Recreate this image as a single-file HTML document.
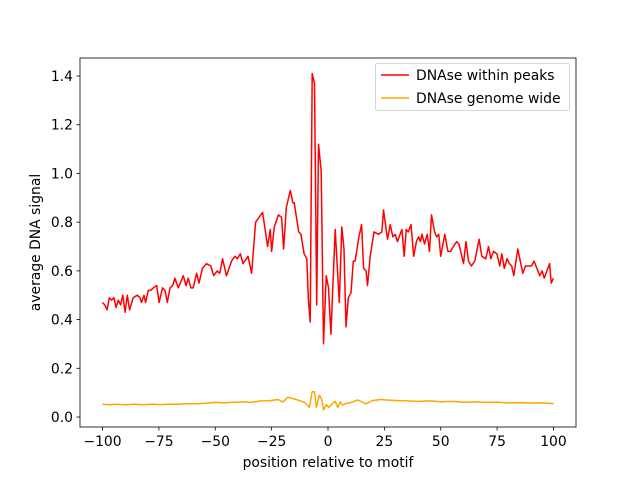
<!DOCTYPE html>
<html><head><meta charset="utf-8"><style>
body{margin:0;background:#fff}
svg{display:block;font-family:"DejaVu Sans","Liberation Sans",sans-serif}
</style></head><body>
<svg id="chart" width="640" height="480" xmlns="http://www.w3.org/2000/svg">
<rect width="640" height="480" fill="#fff"/>
<g id="plot"></g>
</svg>
<script>
const redX=[-100,-99,-98,-97,-96,-95,-94,-93,-92,-91,-90,-89,-88,-86.4,-84.6,-83.4,-82.7,-81.6,-80.9,-79.7,-78.7,-77.5,-76,-74.9,-73.4,-72.3,-71.3,-70.1,-68.9,-67.9,-66.4,-64.2,-63,-62,-60.8,-59.8,-58.3,-57.2,-55.7,-53.9,-52,-50.7,-49.2,-48,-46.8,-45,-42.8,-41.3,-40.2,-38.9,-37.7,-35.5,-33.9,-32.1,-29,-26.8,-25.6,-25,-23.8,-22,-20.6,-19.7,-18.5,-16.7,-15.6,-15,-13,-12,-10.6,-9.4,-8.7,-7.9,-7,-6,-5,-4.2,-3,-2,-0.8,0.2,1.3,3.2,5,6.1,7.1,8,9,10.2,11.2,12,13.7,14.9,15.8,16.9,17.5,18.7,20.4,22.4,23.9,24.6,26.4,27.6,28.8,29.8,30.8,32.8,33.8,34.7,35.6,36.8,38,39.2,40.2,41,41.7,42.8,44,45,45.9,47.3,48.2,49.1,50,51.8,53.2,54.4,55.6,57.1,58.1,60.1,61.2,62.3,63.6,65.1,67,68.2,70,71.2,72.2,73.4,74.9,76.2,77.1,78.2,79.4,80.4,81.5,82.4,84.2,86.4,87.6,89.1,90.2,91.4,93.9,95,95.9,98.3,99,100];
const redY=[0.47,0.46,0.44,0.49,0.48,0.49,0.45,0.48,0.46,0.50,0.43,0.50,0.44,0.49,0.50,0.49,0.47,0.50,0.47,0.52,0.52,0.53,0.54,0.47,0.53,0.52,0.47,0.53,0.54,0.57,0.53,0.58,0.54,0.57,0.53,0.53,0.59,0.55,0.61,0.63,0.62,0.58,0.60,0.59,0.65,0.58,0.64,0.66,0.65,0.67,0.63,0.66,0.59,0.80,0.84,0.70,0.77,0.68,0.78,0.83,0.82,0.69,0.86,0.93,0.88,0.88,0.76,0.75,0.67,0.65,0.48,0.39,1.41,1.37,0.46,1.12,1.01,0.30,0.58,0.53,0.34,0.77,0.47,0.78,0.69,0.37,0.49,0.51,0.64,0.64,0.74,0.79,0.61,0.60,0.54,0.66,0.76,0.75,0.76,0.85,0.73,0.79,0.74,0.75,0.72,0.77,0.66,0.77,0.76,0.79,0.66,0.72,0.74,0.72,0.75,0.71,0.75,0.68,0.83,0.76,0.74,0.75,0.66,0.75,0.68,0.68,0.70,0.72,0.71,0.63,0.72,0.64,0.62,0.64,0.73,0.66,0.65,0.70,0.65,0.68,0.67,0.62,0.67,0.61,0.65,0.63,0.62,0.58,0.69,0.59,0.62,0.62,0.62,0.64,0.58,0.60,0.57,0.63,0.55,0.57];
const orangeX=[-100,-97,-94,-90,-86,-82,-78,-74,-70,-66,-62,-58,-54,-50,-46,-42,-38,-34,-30,-25.9,-22.2,-20,-17.8,-14.1,-10.4,-8.2,-7,-6,-5.2,-3.8,-2.7,-2,-0.8,0.4,1.9,3.2,4.3,5.4,6.5,8,9.5,13.2,16.9,19.8,23.5,25.7,30,35,40,45,50,55,60,65,70,75,80,85,90,95,100];
const orangeY=[0.052,0.050,0.052,0.050,0.052,0.050,0.052,0.051,0.053,0.052,0.055,0.054,0.057,0.060,0.058,0.061,0.062,0.060,0.066,0.067,0.072,0.062,0.081,0.072,0.060,0.040,0.104,0.104,0.040,0.090,0.070,0.029,0.050,0.040,0.055,0.064,0.040,0.062,0.049,0.056,0.058,0.070,0.054,0.068,0.072,0.070,0.068,0.066,0.064,0.066,0.063,0.064,0.061,0.062,0.060,0.061,0.058,0.059,0.057,0.058,0.055];
const xTicks=[-100,-75,-50,-25,0,25,50,75,100];
const yTicks=[0.0,0.2,0.4,0.6,0.8,1.0,1.2,1.4];
const L=80,R=576,T=58,B=427;
const xMin=-110,xMax=110,yMin=-0.041,yMax=1.474;
const sx=v=>L+(v-xMin)/(xMax-xMin)*(R-L);
const sy=v=>B-(v-yMin)/(yMax-yMin)*(B-T);
const NS="http://www.w3.org/2000/svg";
const g=document.getElementById('plot');
function mk(tag,attrs,parent){const e=document.createElementNS(NS,tag);for(const k in attrs)e.setAttribute(k,attrs[k]);(parent||g).appendChild(e);return e;}
function path(xs,ys){return xs.map((x,i)=>(i?'L':'M')+sx(x).toFixed(1)+','+sy(ys[i]).toFixed(1)).join(' ');}
let p=mk('path',{d:path(orangeX,orangeY),fill:'none',stroke:'#ffa500','stroke-width':1.5,'stroke-linejoin':'round'});


p=mk('path',{d:path(redX,redY),fill:'none',stroke:'#ff0000','stroke-width':1.5,'stroke-linejoin':'round'});


let f=mk('rect',{x:L,y:T,width:R-L,height:B-T,fill:'none',stroke:'#000','stroke-width':0.8});


const FS=13.9;
xTicks.forEach(v=>{const x=sx(v);
 mk('line',{x1:x,x2:x,y1:B,y2:B+3.5,stroke:'#000','stroke-width':0.8});
 const t=mk('text',{x:x,y:446,'text-anchor':'middle','font-size':FS,fill:'#000'});t.textContent=(v<0?'\u2212'+(-v):v);
 
 });
yTicks.forEach(v=>{const y=sy(v);
 mk('line',{x1:L-3.5,x2:L,y1:y,y2:y,stroke:'#000','stroke-width':0.8});
 const t=mk('text',{x:L-7,y:y+5,'text-anchor':'end','font-size':FS,fill:'#000'});t.textContent=v.toFixed(1);
 
 });
let xt=mk('text',{x:(L+R)/2,y:467,'text-anchor':'middle','font-size':FS,fill:'#000'});xt.textContent='position relative to motif';


let yt=mk('text',{x:0,y:0,transform:'translate(40,242.5) rotate(-90)','text-anchor':'middle','font-size':FS,fill:'#000'});yt.textContent='average DNA signal';


const lg=mk('g',{});


mk('rect',{x:375.5,y:63.5,width:194,height:47,rx:2,fill:'#fff',stroke:'#ccc','stroke-width':0.8},lg);
[['DNAse within peaks','#ff0000',75],['DNAse genome wide','#ffa500',98]].forEach(([s,c,y])=>{
 const e=mk('g',{},lg);
 
 
 mk('line',{x1:381,x2:409,y1:y,y2:y,stroke:c,'stroke-width':1.5},e);
 const t=mk('text',{x:416,y:y+5,'font-size':FS,fill:'#000'},e);t.textContent=s;});
</script>
</body></html>
